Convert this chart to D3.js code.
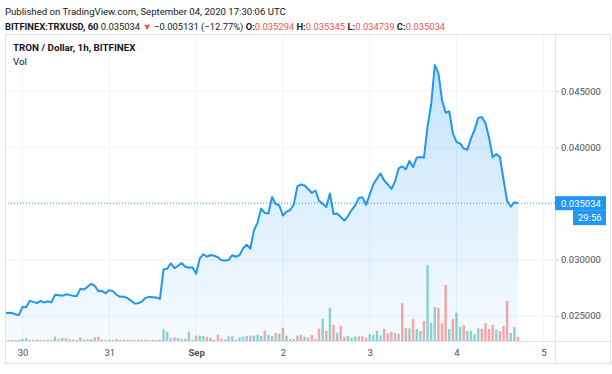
<!DOCTYPE html>
<html>
<head>
<meta charset="utf-8">
<script src="https://cdn.jsdelivr.net/npm/d3@7"></script>
<style>
body { margin: 0; background: #ffffff; }
text { font-family: Roboto, "Liberation Sans", sans-serif; }
</style>
</head>
<body>
<div id="Chart"></div>
<script>
// hourly candles for TRX/USD, first candle is Aug 29 19:00 UTC
var startTime = Date.UTC(2020, 7, 29, 19)

var closes = [
    0.025250, 0.025286, 0.025268, 0.025152, 0.025062,
    0.025804, 0.025780, 0.026339, 0.026250, 0.026134,
    0.026339, 0.026187, 0.026312, 0.026205, 0.026875,
    0.026848, 0.026786, 0.026920, 0.026875, 0.026786,
    0.026759, 0.027411, 0.027348, 0.027589, 0.027857,
    0.027679, 0.027187, 0.027232, 0.027009, 0.027277,
    0.027205, 0.026875, 0.026696, 0.026723, 0.026580,
    0.026366, 0.026098, 0.026134, 0.026277, 0.026607,
    0.026696, 0.026670, 0.026634, 0.026518, 0.029152,
    0.029196, 0.029687, 0.029259, 0.029464, 0.029705,
    0.029375, 0.029286, 0.029321, 0.028750, 0.030089,
    0.030491, 0.030268, 0.030420, 0.030357, 0.030223,
    0.029955, 0.029929, 0.029982, 0.030402, 0.030268,
    0.030402, 0.031027, 0.031339, 0.030982, 0.032616,
    0.033304, 0.034554, 0.034152, 0.034125, 0.035580,
    0.034955, 0.034839, 0.033929, 0.034286, 0.034420,
    0.034911, 0.036518, 0.036696, 0.036607, 0.036295,
    0.035937, 0.036161, 0.035223, 0.034973, 0.034687,
    0.035893, 0.034062, 0.034107, 0.033795, 0.033482,
    0.033884, 0.034420, 0.034839, 0.035491, 0.035554,
    0.034884, 0.035804, 0.036696, 0.037232, 0.037679,
    0.037054, 0.036714, 0.036295, 0.036964, 0.038125,
    0.038304, 0.038054, 0.038795, 0.038232, 0.039080,
    0.039134, 0.039080, 0.041875, 0.043839, 0.047321,
    0.046607, 0.044196, 0.043080, 0.043214, 0.041250,
    0.040482, 0.040357, 0.039893, 0.039795, 0.040804,
    0.041545, 0.042607, 0.042705, 0.042170, 0.040866,
    0.039107, 0.039420, 0.039143, 0.037143, 0.035223,
    0.034732, 0.035107, 0.035034
]

// volume in millions of TRX
var volumes = [
    1.0, 1.0, 1.0, 1.0, 1.0,
    2.0, 3.0, 1.3, 1.0, 1.3,
    1.0, 1.0, 1.3, 1.3, 4.3,
    2.0, 3.0, 3.0, 1.7, 1.3,
    1.0, 3.3, 1.3, 1.7, 1.7,
    3.7, 4.3, 1.3, 1.0, 1.3,
    1.0, 2.0, 1.0, 1.3, 1.0,
    1.0, 1.0, 1.3, 1.3, 1.3,
    1.0, 1.3, 1.0, 1.3, 11.7,
    9.3, 2.7, 3.7, 3.0, 2.3,
    2.3, 9.3, 1.3, 5.3, 5.3,
    5.0, 4.3, 3.3, 1.3, 6.3,
    2.3, 1.3, 4.7, 4.7, 1.3,
    3.7, 4.3, 5.0, 5.3, 5.3,
    6.3, 5.0, 10.3, 6.3, 5.0,
    8.0, 7.3, 13.3, 5.3, 2.0,
    2.0, 5.3, 6.2, 4.3, 3.7,
    6.0, 2.0, 12.3, 22.3, 10.2,
    33.2, 16.2, 8.3, 15.2, 4.2,
    4.8, 3.2, 4.5, 4.7, 4.7,
    3.2, 6.8, 6.2, 10.2, 5.7,
    12.0, 7.7, 9.0, 8.0, 7.0,
    37.7, 12.7, 12.7, 21.7, 11.7,
    10.0, 20.0, 75.7, 18.3, 33.7,
    33.0, 17.7, 56.0, 12.0, 22.0,
    28.3, 14.0, 16.0, 10.0, 10.0,
    6.7, 12.7, 12.0, 17.7, 12.0,
    16.0, 11.3, 10.0, 15.0, 40.0,
    8.0, 14.0, 4.0
]

// u = candle closed up, d = closed down
var candleDirs = ("ddudu" + "uudud" + "udddu" + "dudud" + "uuduu" + "ddudu" +
    "ddudd" + "duuuu" + "duddu" + "uuduu" + "duudu" + "ududd" + "duuud" +
    "uuudu" + "uuduu" + "duduu" + "uddud" + "dudud" + "ududd" + "uuudd" +
    "duuuu" + "dddud" + "ddudu" + "uduuu" + "dddud" + "uuduu" + "uuddd" +
    "duddd" + "uud").split("")

var priceTicks = [0.025, 0.030, 0.040, 0.045]
var dayTicks = [
    Date.UTC(2020, 7, 30), Date.UTC(2020, 7, 31), Date.UTC(2020, 8, 1),
    Date.UTC(2020, 8, 2), Date.UTC(2020, 8, 3), Date.UTC(2020, 8, 4), Date.UTC(2020, 8, 5)
]
var dayLabels = ["30", "31", "Sep", "2", "3", "4", "5"]

var publishedText = "Published on TradingView.com, September 04, 2020 17:30:06 UTC"
var symbolText = "BITFINEX:TRXUSD, 60"
var lastPrice = 0.035034
var changeText = "\u22120.005131 (\u221212.77%)"
var ohlcLabels = ["O:", "H:", "L:", "C:"]
var ohlcValues = ["0.035294", "0.035345", "0.034739", "0.035034"]
var titleText = "TRON / Dollar, 1h, BITFINEX"
var volText = "Vol"
var countdownText = "29:56"

var setup = function()
{
    var screen = {width: 612, height: 374}
    var plot = {left: 5, top: 34, right: 555, bottom: 341}
    var frame = {right: 610, bottom: 363}

    var lineColor = "#2196f3"
    var gridColor = "#f0f3fa"
    var borderColor = "#e0e3eb"
    var textColor = "#4c525e"
    var red = "#ef5350"

    var data = closes.map(function(c, i)
    {
        return {time: new Date(startTime + i * 3600000), close: c, vol: volumes[i], dir: candleDirs[i]}
    })

    //scales
    var xScale = d3.scaleUtc()
        .domain([dayTicks[0], dayTicks[dayTicks.length - 1]])
        .range([22.5, 543.3])

    var yScale = d3.scaleLinear()
        .domain([0.022768, 0.050089])
        .range([plot.bottom, plot.top])

    var vScale = d3.scaleLinear()
        .domain([0, d3.max(volumes)])
        .range([0, (plot.bottom - plot.top) * 0.247])

    var svg = d3.select("#Chart")
        .append("svg")
        .attr("width", screen.width)
        .attr("height", screen.height)

    svg.append("rect")
        .attr("width", screen.width)
        .attr("height", screen.height)
        .attr("fill", "#ffffff")

    var defs = svg.append("defs")
    defs.append("clipPath")
        .attr("id", "plotClip")
        .append("rect")
        .attr("x", plot.left)
        .attr("y", plot.top)
        .attr("width", plot.right - plot.left)
        .attr("height", plot.bottom - plot.top)

    var grad = defs.append("linearGradient")
        .attr("id", "areaFill")
        .attr("gradientUnits", "userSpaceOnUse")
        .attr("x1", 0).attr("x2", 0)
        .attr("y1", yScale(d3.max(closes)))
        .attr("y2", plot.bottom)
    grad.append("stop").attr("offset", 0).attr("stop-color", lineColor).attr("stop-opacity", 0.26)
    grad.append("stop").attr("offset", 1).attr("stop-color", lineColor).attr("stop-opacity", 0.04)

    //header text
    svg.append("text")
        .attr("x", 5)
        .attr("y", 15)
        .attr("font-size", "9.6px")
        .attr("fill", "#131722")
        .text(publishedText)

    var line2 = svg.append("text")
        .attr("x", 5)
        .attr("y", 30)
        .attr("font-size", "9.4px")
        .attr("fill", "#131722")
    line2.append("tspan").attr("font-weight", "bold").text(symbolText + " ")
    line2.append("tspan").text(lastPrice.toFixed(6) + " ")
    line2.append("tspan").attr("fill", red).text("\u25BC")
    line2.append("tspan").text(" " + changeText + " ")
    ohlcLabels.forEach(function(lab, i)
    {
        line2.append("tspan").attr("font-weight", "bold").text(lab)
        line2.append("tspan").attr("fill", red).text(ohlcValues[i] + (i < ohlcLabels.length - 1 ? " " : ""))
    })

    //gridlines
    var grid = svg.append("g")
    grid.selectAll("line.v")
        .data(dayTicks)
        .enter()
        .append("line")
        .attr("x1", function(d) { return xScale(d) })
        .attr("x2", function(d) { return xScale(d) })
        .attr("y1", plot.top)
        .attr("y2", plot.bottom)
        .attr("stroke", gridColor)
    grid.selectAll("line.h")
        .data(priceTicks)
        .enter()
        .append("line")
        .attr("x1", plot.left)
        .attr("x2", plot.right)
        .attr("y1", function(d) { return yScale(d) })
        .attr("y2", function(d) { return yScale(d) })
        .attr("stroke", gridColor)

    var chart = svg.append("g").attr("clip-path", "url(#plotClip)")

    //area + line
    var area = d3.area()
        .x(function(d) { return xScale(d.time) })
        .y0(plot.bottom)
        .y1(function(d) { return yScale(d.close) })

    var line = d3.line()
        .x(function(d) { return xScale(d.time) })
        .y(function(d) { return yScale(d.close) })

    chart.append("path")
        .datum(data)
        .attr("d", area)
        .attr("fill", "url(#areaFill)")

    //volume bars
    chart.selectAll("rect.vol")
        .data(data)
        .enter()
        .append("rect")
        .attr("class", "vol")
        .attr("x", function(d) { return xScale(d.time) - 1.2 })
        .attr("width", 2.4)
        .attr("y", function(d) { return plot.bottom - vScale(d.vol) })
        .attr("height", function(d) { return vScale(d.vol) })
        .attr("fill", function(d) { return d.dir == "u" ? "#26a69a" : "#ef5350" })
        .attr("fill-opacity", 0.5)

    chart.append("path")
        .datum(data)
        .attr("d", line)
        .attr("fill", "none")
        .attr("stroke", lineColor)
        .attr("stroke-width", 2)
        .attr("stroke-linejoin", "round")

    //last price dotted line
    svg.append("line")
        .attr("x1", plot.left)
        .attr("x2", plot.right)
        .attr("y1", yScale(lastPrice))
        .attr("y2", yScale(lastPrice))
        .attr("stroke", lineColor)
        .attr("stroke-dasharray", "1,2")

    //legend inside the pane
    svg.append("text")
        .attr("x", 13)
        .attr("y", 51)
        .attr("font-size", "9.8px")
        .attr("font-weight", "bold")
        .attr("fill", "#131722")
        .text(titleText)
    svg.append("text")
        .attr("x", 13)
        .attr("y", 65)
        .attr("font-size", "9.8px")
        .attr("fill", "#131722")
        .text(volText)

    //axes
    var xAxis = d3.axisBottom(xScale)
        .tickValues(dayTicks)
        .tickFormat(function(d, i) { return dayLabels[i] })
        .tickSize(0)
        .tickPadding(8)

    var yAxis = d3.axisRight(yScale)
        .tickValues(priceTicks)
        .tickFormat(d3.format(".6f"))
        .tickSize(4)
        .tickPadding(2)

    var gx = svg.append("g")
        .attr("transform", "translate(0," + plot.bottom + ")")
        .call(xAxis)
    gx.select(".domain").remove()
    gx.selectAll("text")
        .attr("font-family", null)
        .attr("font-size", "9.5px")
        .attr("fill", textColor)
        .attr("font-weight", function(d, i) { return dayLabels[i] == "Sep" ? "bold" : null })

    var gy = svg.append("g")
        .attr("transform", "translate(" + plot.right + ",0)")
        .call(yAxis)
    gy.select(".domain").remove()
    gy.selectAll("line").attr("stroke", "#c8cbd3")
    gy.selectAll("text")
        .attr("font-family", null)
        .attr("font-size", "9.5px")
        .attr("fill", textColor)

    //borders
    var borders = svg.append("g").attr("stroke", borderColor).attr("fill", "none")
    borders.append("rect")
        .attr("x", plot.left + 0.5)
        .attr("y", plot.top + 0.5)
        .attr("width", frame.right - plot.left)
        .attr("height", frame.bottom - plot.top)
    borders.append("line")
        .attr("x1", plot.left).attr("x2", frame.right)
        .attr("y1", plot.bottom + 0.5).attr("y2", plot.bottom + 0.5)
    borders.append("line")
        .attr("x1", plot.right + 0.5).attr("x2", plot.right + 0.5)
        .attr("y1", plot.top).attr("y2", frame.bottom)

    //last price label and countdown
    var py = yScale(lastPrice)
    svg.append("rect")
        .attr("x", plot.right)
        .attr("y", py - 7)
        .attr("width", 51)
        .attr("height", 14)
        .attr("fill", lineColor)
    svg.append("text")
        .attr("x", plot.right + 6)
        .attr("y", py + 3.5)
        .attr("font-size", "9.5px")
        .attr("fill", "#ffffff")
        .text(lastPrice.toFixed(6))
    svg.append("rect")
        .attr("x", plot.right + 18)
        .attr("y", py + 7)
        .attr("width", 33)
        .attr("height", 15)
        .attr("fill", lineColor)
    svg.append("text")
        .attr("x", plot.right + 23)
        .attr("y", py + 18)
        .attr("font-size", "9.5px")
        .attr("fill", "#ffffff")
        .text(countdownText)
}

setup()
</script>
</body>
</html>
